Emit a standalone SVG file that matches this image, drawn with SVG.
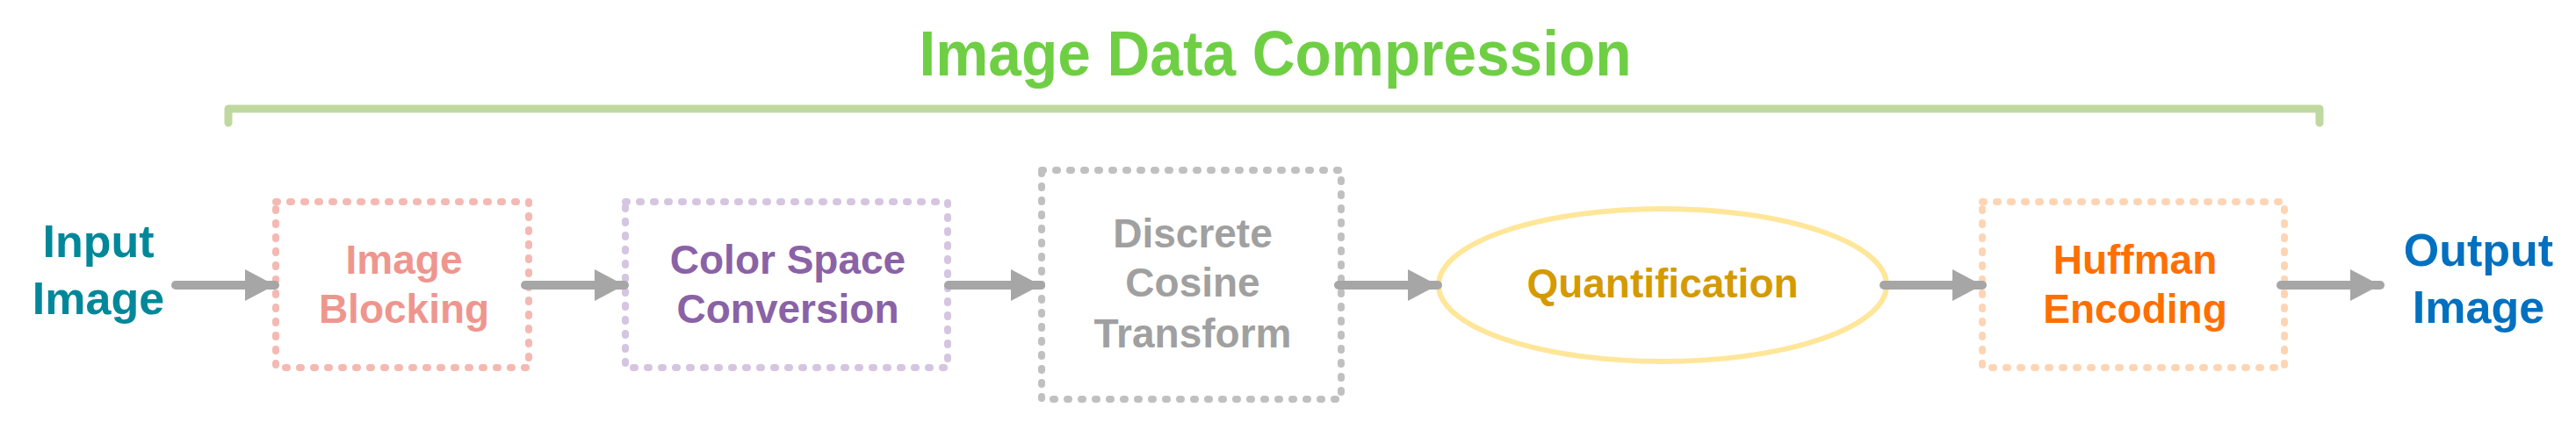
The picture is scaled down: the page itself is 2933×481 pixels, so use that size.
<svg xmlns="http://www.w3.org/2000/svg" width="2933" height="481" viewBox="0 0 2933 481">
<defs>
<style>
text{font-family:"Liberation Sans",Arial,sans-serif;text-anchor:middle;font-weight:bold}
.box{fill:none;stroke-width:8;stroke-dasharray:2 14;stroke-linecap:round}
.conn line{stroke:#A6A6A6;stroke-width:10;stroke-linecap:round}
.lbl{font-size:46px}
.io{font-size:52px}
</style>
<marker id="ah" markerUnits="userSpaceOnUse" markerWidth="34" markerHeight="36" refX="34" refY="18" orient="auto">
<path d="M0,0 L34,18 L0,36 Z" fill="#A6A6A6"/>
</marker>
</defs>
<rect width="2933" height="481" fill="#fff"/>
<g id="title">
<text x="1452" y="86" font-size="72" fill="#6FCF44" textLength="811" lengthAdjust="spacingAndGlyphs">Image Data Compression</text>
<path d="M260,140 V124 H2641 V140" fill="none" stroke="#BFD89F" stroke-width="9" stroke-linejoin="round" stroke-linecap="round"/>
</g>
<g id="input"><text class="io" fill="#00889A"><tspan x="112" y="293">Input</tspan><tspan x="112" y="358">Image</tspan></text></g>
<g id="blocking"><rect class="box" x="314" y="230" width="288" height="189" stroke="#F4B9B2"/>
<text class="lbl" fill="#EE968E"><tspan x="460" y="312">Image</tspan><tspan x="460" y="368">Blocking</tspan></text></g>
<g id="colorspace"><rect class="box" x="712" y="230" width="367" height="189" stroke="#D5C5E0"/>
<text class="lbl" fill="#8A62A6"><tspan x="897" y="312">Color Space</tspan><tspan x="897" y="368">Conversion</tspan></text></g>
<g id="dct"><rect class="box" x="1186" y="194" width="341" height="261" stroke="#C0C0C0"/>
<text class="lbl" fill="#A0A0A0"><tspan x="1358" y="282">Discrete</tspan><tspan x="1358" y="338">Cosine</tspan><tspan x="1358" y="396">Transform</tspan></text></g>
<g id="quant"><ellipse cx="1893" cy="325" rx="255" ry="87" fill="none" stroke="#FFE699" stroke-width="6"/>
<text class="lbl" x="1893" y="339" fill="#D49A00">Quantification</text></g>
<g id="huffman"><rect class="box" x="2257" y="230" width="344" height="189" stroke="#FDD5B5"/>
<text class="lbl" fill="#FF6F00"><tspan x="2431" y="312">Huffman</tspan><tspan x="2431" y="368">Encoding</tspan></text></g>
<g id="output"><text class="io" fill="#0070C0"><tspan x="2822" y="303">Output</tspan><tspan x="2822" y="368">Image</tspan></text></g>
<g class="conn" id="connectors">
<line x1="200" y1="325" x2="313" y2="325" marker-end="url(#ah)"/>
<line x1="598" y1="325" x2="711" y2="325" marker-end="url(#ah)"/>
<line x1="1080" y1="325" x2="1185" y2="325" marker-end="url(#ah)"/>
<line x1="1524" y1="325" x2="1637" y2="325" marker-end="url(#ah)"/>
<line x1="2145" y1="325" x2="2257" y2="325" marker-end="url(#ah)"/>
<line x1="2597" y1="325" x2="2710" y2="325" marker-end="url(#ah)"/>
</g>
</svg>
